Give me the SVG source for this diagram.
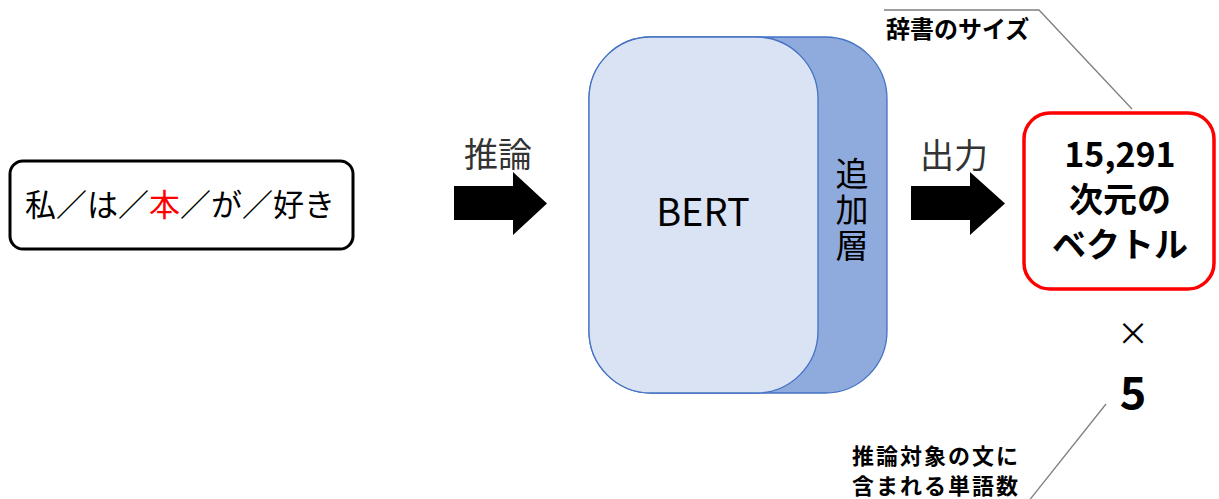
<svg xmlns="http://www.w3.org/2000/svg" width="1219" height="499" viewBox="0 0 1219 499">
<style>
text{font-family:"Noto Sans CJK JP","Noto Sans",sans-serif;fill:#000}
.lbl{font-size:34px;fill:#333}
.big{font-size:34px;font-weight:bold}
.note{font-size:22px;font-weight:bold;letter-spacing:2px}
.call{fill:none;stroke:#7f7f7f;stroke-width:1.3}
</style>
<rect width="1219" height="499" fill="#fff"/>
<g id="input">
<rect x="10" y="161" width="343" height="88" rx="13" fill="#fff" stroke="#000" stroke-width="3"/>
<text x="180" y="216" font-size="31" text-anchor="middle">私／は／<tspan fill="#ff0000">本</tspan>／が／好き</text>
</g>
<g id="bert">
<rect x="589" y="37" width="298" height="356" rx="62" fill="#8faadc" stroke="#4472c4" stroke-width="1.3"/>
<rect x="589" y="37" width="229" height="356" rx="62" fill="#dae3f3" stroke="#4472c4" stroke-width="1.3"/>
<text x="703" y="226" font-size="38" text-anchor="middle" font-family="'Noto Sans',sans-serif">BERT</text>
<text x="852" y="157" font-size="33" writing-mode="tb" letter-spacing="3">追加層</text>
</g>
<g id="output">
<rect x="1024" y="113" width="190" height="176" rx="26" fill="#fff" stroke="#ff0000" stroke-width="3.5"/>
<text x="1120" y="167" class="big" text-anchor="middle">15,291</text>
<text x="1120" y="212" class="big" text-anchor="middle">次元の</text>
<text x="1120" y="257" class="big" text-anchor="middle">ベクトル</text>
</g>
<g id="times">
<text x="1133" y="345" font-size="32" text-anchor="middle">×</text>
<text x="1133" y="409" font-size="45" font-weight="bold" text-anchor="middle" font-family="'Noto Sans',sans-serif">5</text>
</g>
<g id="notes">
<text x="886" y="38" font-size="24" font-weight="bold">辞書のサイズ</text>
<text class="note"><tspan x="852" y="464">推論対象の文に</tspan><tspan x="852" y="494">含まれる単語数</tspan></text>
</g>
<g id="connectors">
<polygon points="454,186 513,186 513,172 547,203.5 513,235 513,220 454,220" fill="#000"/>
<text x="498" y="167" class="lbl" text-anchor="middle">推論</text>
<polygon points="911,186 970,186 970,172 1005,203.5 970,235 970,220 911,220" fill="#000"/>
<text x="954" y="168" class="lbl" text-anchor="middle">出力</text>
<polyline class="call" points="884,10 1039,10 1132,109"/>
<polyline class="call" points="1106,404 1028,502"/>
</g>
</svg>
